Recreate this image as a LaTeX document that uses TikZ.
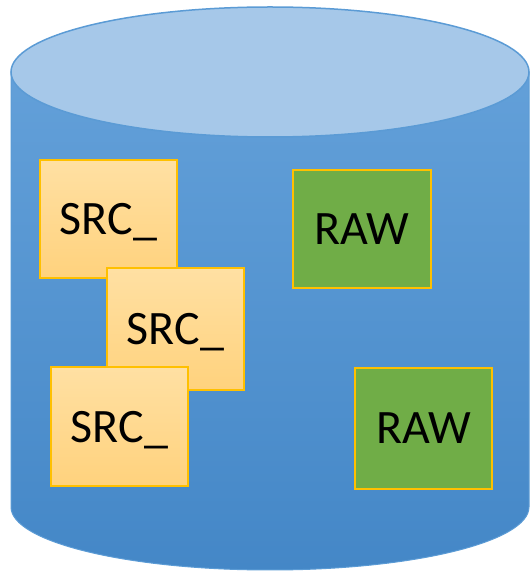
\documentclass[tikz,border=0pt]{standalone}
\usepackage{fontspec}
\setmainfont{Carlito}
\definecolor{bodytop}{HTML}{63A0D9}
\definecolor{bodybot}{HTML}{4487C7}
\definecolor{lidfill}{HTML}{A6C8E9}
\definecolor{cylline}{HTML}{5B9BD5}
\definecolor{srctop}{HTML}{FFE0A3}
\definecolor{srcbot}{HTML}{FFD27D}
\definecolor{gold}{HTML}{FFC000}
\definecolor{rawgreen}{HTML}{70AD47}
\tikzset{
  box/.style={draw=gold, line width=2pt, inner sep=0pt, text depth=0pt,
    font=\fontsize{48}{52}\selectfont},
  srcbox/.style={box, top color=srctop, bottom color=srcbot},
  rawbox/.style={box, fill=rawgreen},
}
\begin{document}
\begin{tikzpicture}[x=1pt,y=1pt]
\useasboundingbox (0,0) rectangle (530,571);
% cylinder body
\path[draw=cylline, line width=1pt, top color=bodytop, bottom color=bodybot]
  (11,499) -- (11,64) arc[start angle=180, end angle=360, x radius=259, y radius=63]
  -- (529,499) -- cycle;
% lid
\path[draw=cylline, line width=1.5pt, fill=lidfill]
  (270,499) ellipse[x radius=259, y radius=65];
% boxes
\node[srcbox, minimum width=137pt, minimum height=118pt] (s1) at (108.5,352) {SRC\_};
\node[srcbox, minimum width=137pt, minimum height=122pt] (s2) at (175.5,242) {SRC\_};
\node[srcbox, minimum width=137pt, minimum height=119pt] (s3) at (119.5,144.5) {SRC\_};
\node[rawbox, minimum width=138pt, minimum height=118pt] (r1) at (362,342) {RAW};
\node[rawbox, minimum width=137pt, minimum height=121pt] (r2) at (423.5,142.5) {RAW};
\end{tikzpicture}
\end{document}
